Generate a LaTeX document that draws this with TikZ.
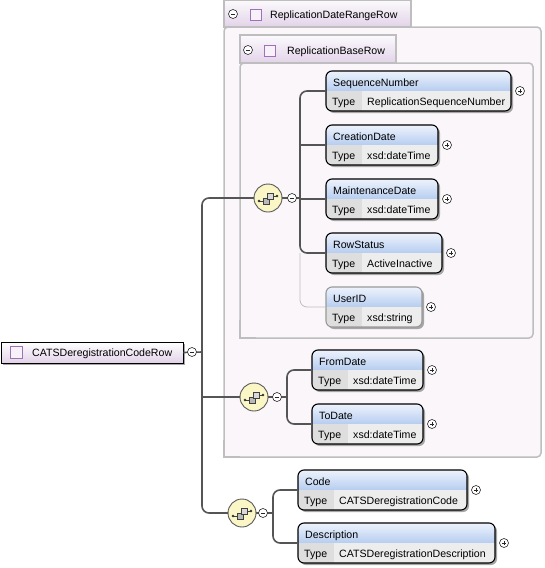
\documentclass[tikz,border=0pt]{standalone}
\usepackage{fontspec}
\setmainfont{Liberation Sans}
\usetikzlibrary{fit}
\definecolor{hdrtop}{HTML}{EEF3FC}
\definecolor{hdrbot}{HTML}{B6CDF0}
\definecolor{typecell}{HTML}{DEDEDE}
\definecolor{valcell}{HTML}{EDEDED}
\definecolor{grpfill}{HTML}{FAF6FA}
\definecolor{grpline}{HTML}{BEBEBE}
\definecolor{tabtop}{HTML}{FCFAFD}
\definecolor{tabbot}{HTML}{E2D3E8}
\definecolor{sqline}{HTML}{A070B8}
\definecolor{sqfill}{HTML}{F7F1F9}
\definecolor{conn}{HTML}{555555}
\definecolor{seqfill}{HTML}{FAF6C6}
\tikzset{
  x=1pt, y=-1pt,
  every node/.style={font=\fontsize{10.6}{12}\selectfont},
  txt/.style={anchor=base west, inner sep=0pt},
  conn/.style={draw=conn, line width=1.6pt, rounded corners=7pt},
  optconn/.style={draw=black!25, line width=0.8pt, rounded corners=7pt},
  minusc/.style={circle, draw=black!85, fill=white, line width=0.6pt, minimum size=9pt, inner sep=0pt,
    path picture={\draw[line width=0.6pt] ([xshift=-2.2pt]path picture bounding box.center) -- ([xshift=2.2pt]path picture bounding box.center);}},
  plusc/.style={circle, draw=black!85, fill=white, line width=0.6pt, minimum size=9pt, inner sep=0pt,
    path picture={\draw[line width=0.6pt] ([xshift=-2.2pt]path picture bounding box.center) -- ([xshift=2.2pt]path picture bounding box.center);
                  \draw[line width=0.6pt] ([yshift=-2.2pt]path picture bounding box.center) -- ([yshift=2.2pt]path picture bounding box.center);}},
  seqc/.style={circle, draw=black!65, fill=seqfill, line width=0.9pt, minimum size=28pt, inner sep=0pt},
  sqicon/.style={draw=sqline, fill=sqfill, line width=0.8pt},
  grpbody/.style={fill=grpfill, draw=grpline, line width=1.5pt, rounded corners=4pt},
  grptab/.style={top color=tabtop, bottom color=tabbot, draw=grpline, line width=1.5pt},
}
% #1 border colour, #2 name, #3 x1, #4 y1, #5 x2, #6 y2, #7 title, #8 type
\newcommand\elembox[8][black]{%
  \fill[black!35, rounded corners=6pt] (#3+2,#4+2) rectangle (#5+2,#6+2);
  \begin{scope}
    \clip[rounded corners=6pt] (#3,#4) rectangle (#5,#6);
    \shade[top color=hdrtop, bottom color=hdrbot] (#3,#4) rectangle (#5,#4+20);
    \fill[typecell] (#3,#4+20) rectangle (#3+36,#6);
    \fill[valcell] (#3+36,#4+20) rectangle (#5,#6);
  \end{scope}
  \node[fit={(#3,#4) (#5,#6)}, inner sep=0pt, draw=#1, rounded corners=6pt, line width=1.1pt] (#2) {};
  \node[txt] at (#3+7,#4+15) {#7};
  \node[txt] at (#3+6,#4+34) {Type};
  \node[txt] at (#3+41,#4+34) {#8};
  \node[plusc] (#2-plus) at ({#5+9},{(#4+#6)/2}) {};
}
% sequence compositor icon
\newcommand\seqicon[3]{%
  \node[seqc] (#1) at (#2,#3) {};
  \draw[black!75, line width=0.7pt] (#2-9,#3+3) -- (#2-4,#3+3);
  \draw[black!75, line width=0.7pt] (#2+5,#3-2) -- (#2+9,#3-2);
  \fill[black!80] (#2-9,#3+3) circle (1.3pt);
  \fill[black!80] (#2+9,#3-2) circle (1.3pt);
  \draw[black!75, fill=gray!55, line width=0.6pt] (#2-5,#3) rectangle (#2+1,#3+6);
  \draw[black!75, fill=gray!30, line width=0.6pt] (#2-1,#3-5) rectangle (#2+5,#3+1);
}
\begin{document}
\begin{tikzpicture}
\useasboundingbox (0,0) rectangle (544,568);
% ---------- outer group: ReplicationDateRangeRow
\path[grpbody] (224,27) rectangle (541,457);
\fill[grpfill] (225,445) rectangle (236,456);
\draw[grpline, line width=1.5pt] (224,440) -- (224,457) -- (240,457);
\path[grptab] (224,0) rectangle (411,27);
\node[minusc] (tabminusA) at (233,14) {};
\draw[sqicon] (250,9) rectangle (261,20);
\node[txt] (tabA) at (270,18) {ReplicationDateRangeRow};
% ---------- inner group: ReplicationBaseRow
\path[grpbody] (240,63) rectangle (533,338);
\fill[grpfill] (241,326) rectangle (252,337);
\draw[grpline, line width=1.5pt] (240,320) -- (240,338) -- (256,338);
\path[grptab] (240,35) rectangle (396,63);
\node[minusc] (tabminusB) at (248,50) {};
\draw[sqicon] (264,45) rectangle (275,56);
\node[txt] (tabB) at (287,54) {ReplicationBaseRow};
% ---------- elements
\elembox{seqno}{326}{71}{511}{111}{SequenceNumber}{ReplicationSequenceNumber}
\elembox{creat}{326}{125}{438}{165}{CreationDate}{xsd:dateTime}
\elembox{maint}{326}{179}{438}{219}{MaintenanceDate}{xsd:dateTime}
\elembox{rowst}{326}{233}{442}{273}{RowStatus}{ActiveInactive}
\elembox[black!40]{userid}{326}{287}{422}{327}{UserID}{xsd:string}
\elembox{fromd}{312}{350}{423}{390}{FromDate}{xsd:dateTime}
\elembox{tod}{312}{404}{423}{444}{ToDate}{xsd:dateTime}
\elembox{code}{298}{470}{467}{510}{Code}{CATSDeregistrationCode}
\elembox{descr}{298}{523}{495}{563}{Description}{CATSDeregistrationDescription}
% ---------- root
\fill[black!35] (3,344) rectangle (185,365);
\shade[top color=white, bottom color=tabbot] (1,342) rectangle (183,363);
\node[fit={(1,342) (183,363)}, inner sep=0pt, draw=black, line width=0.9pt] (root) {};
\draw[sqicon] (10,346) rectangle (22,358);
\node[txt] at (32,356) {CATSDeregistrationCodeRow};
% ---------- connector coordinates
\coordinate (spine) at (202,352);
\coordinate (g1) at (300,198);
\coordinate (g2) at (287,397);
\coordinate (g3) at (273,513);
% ---------- connectors
\draw[optconn] (rowst.west -| g1) |- (userid.west);
\draw[conn] (root.east) -- (spine);
\path[conn] (268,198) -| (spine) |- (242,513);
\path[conn] (254,397) -- (spine |- 254,397);
\path[conn] (seqno.west) -| (g1) |- (rowst.west);
\path[conn] (creat.west) -- (creat.west -| g1);
\path[conn] (maint.west) -- (maint.west -| g1);
\path[conn] (fromd.west) -| (g2) |- (tod.west);
\path[conn] (code.west) -| (g3) |- (descr.west);
\path[conn] (268,198) -- (g1);
\path[conn] (254,397) -- (g2);
\path[conn] (242,513) -- (g3);
% ---------- icons and toggles
\seqicon{seqA}{268}{198}
\seqicon{seqB}{254}{397}
\seqicon{seqC}{242}{513}
\node[minusc] (minA) at (292,198) {};
\node[minusc] (minB) at (277,397) {};
\node[minusc] (minC) at (263,513) {};
\node[minusc] (minR) at (192,352) {};
\end{tikzpicture}
\end{document}
